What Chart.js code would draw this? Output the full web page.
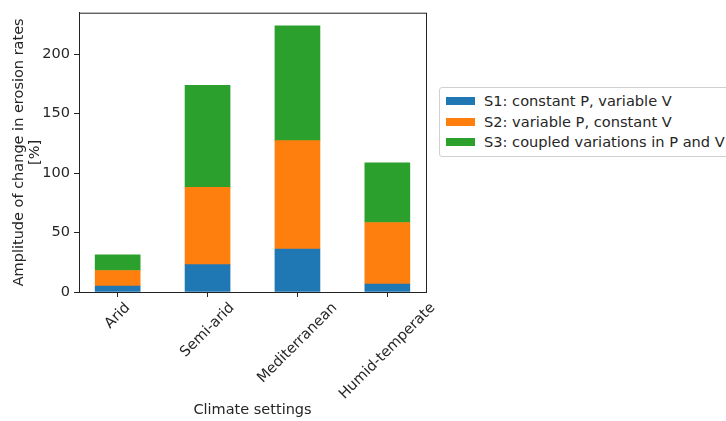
<!DOCTYPE html>
<html>
<head>
<meta charset="utf-8">
<script src="https://cdn.jsdelivr.net/npm/chart.js@4"></script>
<style>
    body { margin: 0; background: #fff; font-family: "DejaVu Sans", sans-serif; }
    #wrap { position: relative; width: 726px; height: 421px; overflow: hidden; }
    #legend {
        position: absolute; left: 439px; top: 87px; width: 300px; height: 68px;
        border: 1px solid #d0d0d0; border-radius: 3px; background: #fff;
        font-size: 14.6px; color: #262626;
    }
    .row { position: absolute; left: 0; height: 20px; line-height: 20px; white-space: nowrap; }
    .sw { position: absolute; left: 6px; top: 6px; width: 29px; height: 8px; }
    .lbl { position: absolute; left: 44px; top: 0; }
</style>
</head>
<body>
<div id="wrap">
    <canvas id="chart" width="726" height="421"></canvas>
    <div id="legend"></div>
</div>
<script>
// Climate settings (categories)
const categories = ['Arid', 'Semi-arid', 'Mediterranean', 'Humid-temperate'];

// Series values [%]
const s1Values = [5.0, 23.1, 36.2, 6.7];
const s2Values = [13.1, 64.9, 91.1, 51.8];
const s3Values = [13.1, 85.8, 96.6, 50.1];

const seriesNames = [
    'S1: constant P, variable V',
    'S2: variable P, constant V',
    'S3: coupled variations in P and V'
];
const seriesColors = ['#1f77b4', '#ff7f0e', '#2ca02c'];

const yTicks = [0, 50, 100, 150, 200];

const textColor = '#262626';
const font = { family: '"DejaVu Sans", sans-serif', size: 14.5 };

function toPoints(values) {
    return values.map((v, i) => ({ x: i, y: v }));
}

const datasets = [s1Values, s2Values, s3Values].map((vals, k) => ({
    label: seriesNames[k],
    data: toPoints(vals),
    backgroundColor: seriesColors[k],
    borderWidth: 0,
    barThickness: 45,
    stack: 'all'
}));

// Draw the top and right spines, and the x labels rotated about their centre
// (matplotlib style, rotation=45, ha='center')
const frame = {
    id: 'frame',
    afterDraw(chart) {
        const { ctx, chartArea: a } = chart;
        ctx.save();
        ctx.strokeStyle = '#222';
        ctx.lineWidth = 1;
        ctx.strokeRect(a.left + 0.5, a.top + 0.5, a.right - a.left, a.bottom - a.top);

        const xs = chart.scales.x;
        ctx.font = font.size + 'px ' + font.family;
        ctx.fillStyle = textColor;
        ctx.textAlign = 'center';
        ctx.textBaseline = 'middle';
        const s = Math.SQRT1_2;
        xs.ticks.forEach((t, i) => {
            const label = categories[t.value];
            const w = ctx.measureText(label).width;
            const h = font.size * 1.1;
            const cx = xs.getPixelForTick(i);
            const cy = a.bottom + 8 + (w + h) * s / 2;
            ctx.save();
            ctx.translate(cx, cy);
            ctx.rotate(-Math.PI / 4);
            ctx.fillText(label, 0, 0);
            ctx.restore();
        });
        ctx.restore();
    }
};

new Chart(document.getElementById('chart'), {
    type: 'bar',
    data: { datasets },
    plugins: [frame],
    options: {
        responsive: false,
        animation: false,
        layout: { padding: { left: 0, top: 10, right: 300, bottom: 0 } },
        plugins: { legend: { display: false }, tooltip: { enabled: false } },
        scales: {
            x: {
                type: 'linear',
                offset: false,
                min: -0.43,
                max: 3.43,
                afterBuildTicks: (scale) => {
                    scale.ticks = categories.map((c, i) => ({ value: i }));
                },
                afterFit: (scale) => { scale.height = 129; },
                ticks: { display: false },
                grid: { drawOnChartArea: false, offset: false, tickLength: 5, color: '#222' },
                border: { color: '#222' },
                title: {
                    display: true,
                    text: 'Climate settings',
                    color: textColor,
                    font,
                    padding: { top: 0, bottom: 2 }
                }
            },
            y: {
                stacked: true,
                min: 0,
                max: 235,
                afterBuildTicks: (scale) => {
                    scale.ticks = yTicks.map(v => ({ value: v }));
                },
                afterFit: (scale) => { scale.width = 79; },
                ticks: { color: textColor, font, padding: 4 },
                grid: { drawOnChartArea: false, tickLength: 5, color: '#222' },
                border: { color: '#222' },
                title: {
                    display: true,
                    text: ['Amplitude of change in erosion rates', '[%]'],
                    color: textColor,
                    font: { ...font, lineHeight: 1.12 },
                    padding: { top: 11, bottom: 0 }
                }
            }
        }
    }
});

// HTML legend built from the series arrays
const legend = document.getElementById('legend');
seriesNames.forEach((name, k) => {
    const row = document.createElement('div');
    row.className = 'row';
    row.style.top = (3 + k * 20.5) + 'px';
    row.innerHTML = '<span class="sw" style="background:' + seriesColors[k] + '"></span>' +
        '<span class="lbl"></span>';
    row.querySelector('.lbl').textContent = name;
    legend.appendChild(row);
});
</script>
</body>
</html>
